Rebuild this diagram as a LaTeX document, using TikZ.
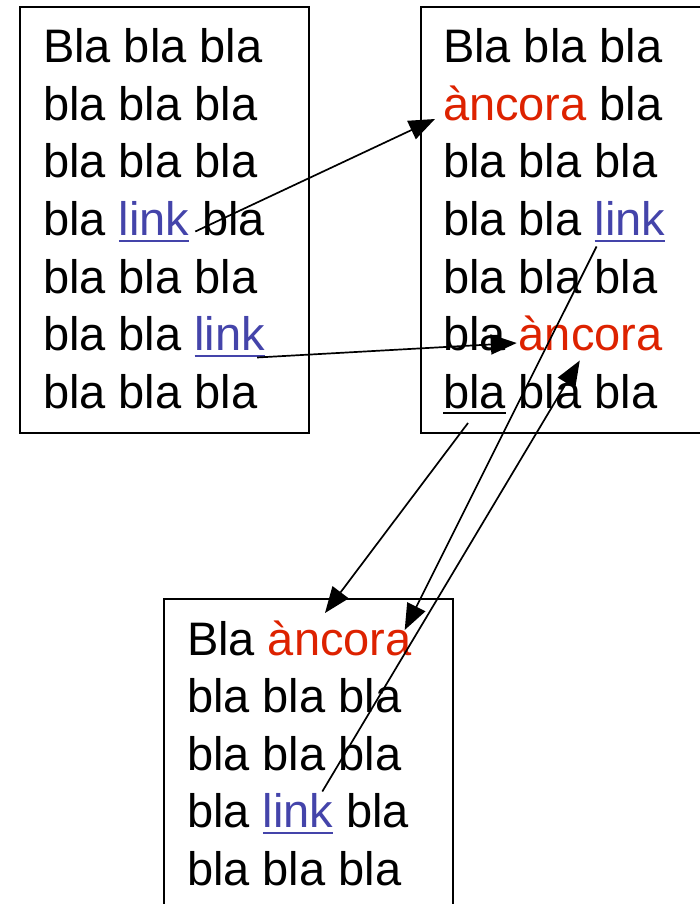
\documentclass[tikz,border=0pt]{standalone}
\usepackage{fontspec}
\setmainfont{Liberation Sans}
\usetikzlibrary{arrows.meta}
\definecolor{anchorred}{RGB}{221,34,0}
\definecolor{linkblue}{RGB}{68,68,170}
\begin{document}
\begin{tikzpicture}[x=1pt,y=-1pt,
  page/.style={draw=black, line width=2pt},
  txt/.style={inner sep=0pt, outer sep=0pt, anchor=base west,
    font=\fontsize{47}{57.5}\selectfont},
  followword/.style={txt, xshift=13.06pt},
  linkword/.style={text=linkblue},
  anchorword/.style={text=anchorred},
  uline/.style={line width=2.2pt},
  jump/.style={line width=1.7pt, -{Triangle[length=26pt,width=20pt]}}]

\useasboundingbox (0,0) rectangle (700,904);
\clip (0,0) rectangle (700,904);

% the three pages
\draw[page] (20,7) rectangle (309,433);
\draw[page] (421,7) rectangle (730,433);
\draw[page] (164,599) rectangle (453,940);

% first page
\node[txt] (a1) at (43,63) {Bla bla bla};
\node[txt] (a2) at (43,120.5) {bla bla bla};
\node[txt] (a3) at (43,178) {bla bla bla};
\node[txt] (a4) at (43,235.5) {bla};
\node[followword, linkword] (linkA) at (a4.base east) {link};
\node[followword] (a4b) at (linkA.base east) {bla};
\node[txt] (a5) at (43,293) {bla bla bla};
\node[txt] (a6) at (43,350.5) {bla bla};
\node[followword, linkword] (linkB) at (a6.base east) {link};
\node[txt] (a7) at (43,408) {bla bla bla};

% second page
\node[txt] (b1) at (443,63) {Bla bla bla};
\node[txt, anchorword] (ancA) at (443,120.5) {àncora};
\node[followword] (b2) at (ancA.base east) {bla};
\node[txt] (b3) at (443,178) {bla bla bla};
\node[txt] (b4) at (443,235.5) {bla bla};
\node[followword, linkword] (linkC) at (b4.base east) {link};
\node[txt] (b5) at (443,293) {bla bla bla};
\node[txt] (b6) at (443,350.5) {bla};
\node[followword, anchorword] (ancB) at (b6.base east) {àncora};
\node[txt] (b7) at (443,408) {bla};
\node[followword] (b7b) at (b7.base east) {bla bla};

% third page
\node[txt] (c1) at (187,655) {Bla};
\node[followword, anchorword] (ancC) at (c1.base east) {àncora};
\node[txt] (c2) at (187,712.5) {bla bla bla};
\node[txt] (c3) at (187,770) {bla bla bla};
\node[txt] (c4) at (187,827.5) {bla};
\node[followword, linkword] (linkD) at (c4.base east) {link};
\node[followword] (c4b) at (linkD.base east) {bla};
\node[txt] (c5) at (187,885) {bla bla bla};

% underlines
\foreach \w in {linkA, linkB, linkC, linkD}
  \draw[uline, linkblue] ([yshift=-5.5pt]\w.base west) -- ([yshift=-5.5pt]\w.base east);
\draw[uline] ([yshift=-5pt]b7.base west) -- ([yshift=-5pt]b7.base east);

% hyperlink jumps
\draw[jump] ([xshift=6pt,yshift=4pt]linkA.base east) -- ([xshift=-8pt,yshift=1.5pt]ancA.base west);
\draw[jump] ([xshift=-8pt,yshift=-7pt]linkB.base east) -- ([xshift=-2pt,yshift=7.5pt]ancB.base west);
\draw[jump] ([xshift=2pt,yshift=-11pt]linkC.base west) -- ([xshift=-7pt,yshift=25pt]ancC.base east);
\draw[jump] ([xshift=-11pt,yshift=36pt]linkD.base east) -- ([xshift=61pt,yshift=-10pt]ancB.base west);
\draw[jump] ([xshift=25pt,yshift=-15pt]b7.base west) -- ([xshift=57pt,yshift=42pt]ancC.base west);
\end{tikzpicture}
\end{document}
